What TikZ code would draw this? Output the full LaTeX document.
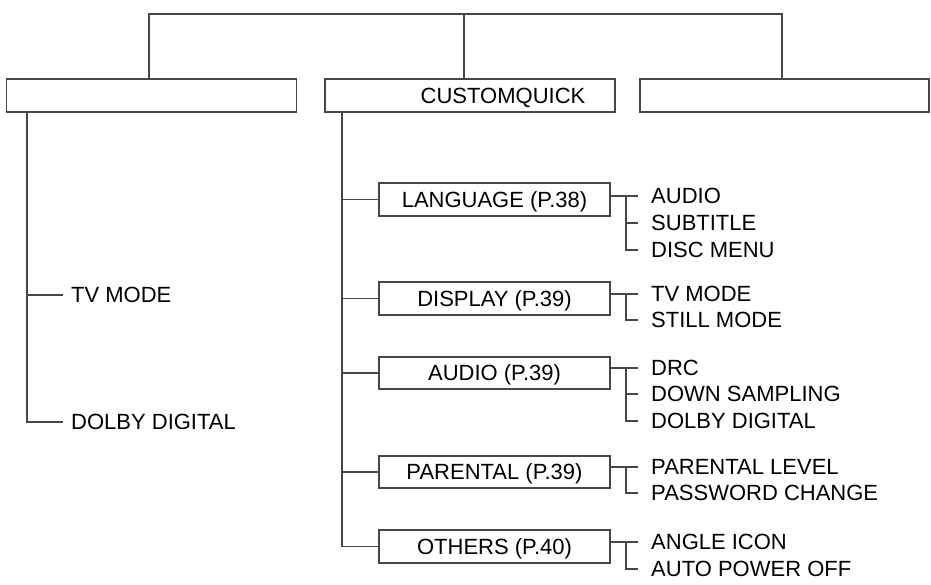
\documentclass[tikz,border=0pt]{standalone}
\usepackage{fontspec}
\setmainfont{Liberation Sans}
\begin{document}
\begin{tikzpicture}[x=1pt,y=-1pt,
  conn/.style={draw=black!72,line width=1.6pt},
  topbox/.style={draw=black!72,line width=1.6pt,minimum width=290pt,minimum height=33pt,inner sep=0pt},
  subbox/.style={draw=black!72,line width=1.6pt,minimum width=231pt,minimum height=33pt,inner sep=0pt,
    font=\fontsize{22}{24}\selectfont,text height=15.75pt,text depth=0pt},
  item/.style={anchor=west,inner xsep=0pt,inner ysep=1pt,font=\fontsize{22}{24}\selectfont,
    text height=15.75pt,text depth=0pt}]
\useasboundingbox (0,0) rectangle (931,584);
% top level
\node[topbox] (L) at (151.5,95.5) {};
\node[topbox] (M) at (470,95.5) {};
\node[topbox,minimum width=289pt] (R) at (784.5,95.5) {};
\node[item,anchor=center] (cq) at (503,95.5) {CUSTOMQUICK};
\coordinate (t1) at (149,14);
\coordinate (t2) at (464,14);
\coordinate (t3) at (782,14);
\draw[conn] (L.north -| t1) -- (t1) -- (t3) -- (R.north -| t3);
\draw[conn] (t2) -- (M.north -| t2);
% left column
\coordinate (lx) at (27,0);
\node[item] (ltv) at (71,295) {TV MODE};
\node[item] (ldd) at (71,422) {DOLBY DIGITAL};
\draw[conn] (L.south -| lx) |- ([xshift=-8pt]ldd.west);
\draw[conn] (lx |- ltv.west) -- ([xshift=-8pt]ltv.west);
% middle column boxes
\coordinate (mx) at (342,0);
\node[subbox] (lang) at (494.5,199.5) {LANGUAGE (P.38)};
\node[subbox] (disp) at (494.5,298.5) {DISPLAY (P.39)};
\node[subbox,minimum height=32pt] (aud) at (494.5,373) {AUDIO (P.39)};
\node[subbox,minimum height=32pt] (par) at (494.5,472) {PARENTAL (P.39)};
\node[subbox] (oth) at (494.5,546.5) {OTHERS (P.40)};
\draw[conn] (M.south -| mx) |- (oth.west);
\foreach \b in {lang,disp,aud,par}
  \draw[conn] (mx |- \b.west) -- (\b.west);
% items
\node[item] (a1) at (651,196) {AUDIO};
\node[item] (a2) at (651,223) {SUBTITLE};
\node[item] (a3) at (651,250) {DISC MENU};
\node[item] (b1) at (651,294) {TV MODE};
\node[item] (b2) at (651,320) {STILL MODE};
\node[item] (c1) at (651,368) {DRC};
\node[item] (c2) at (651,394) {DOWN SAMPLING};
\node[item] (c3) at (651,421) {DOLBY DIGITAL};
\node[item] (d1) at (651,467) {PARENTAL LEVEL};
\node[item] (d2) at (651,493) {PASSWORD CHANGE};
\node[item] (e1) at (651,542) {ANGLE ICON};
\node[item] (e2) at (651,569) {AUTO POWER OFF};
% brackets
\foreach \bx/\f/\l in {lang/a1/a3,disp/b1/b2,aud/c1/c3,par/d1/d2,oth/e1/e2}{
  \draw[conn] (\bx.east |- \f.west) -- ([xshift=-13pt]\f.west);
  \draw[conn] ([xshift=-25pt]\f.west) |- ([xshift=-13pt]\l.west);
}
\draw[conn] ([xshift=-25pt]a2.west) -- ([xshift=-13pt]a2.west);
\draw[conn] ([xshift=-25pt]c2.west) -- ([xshift=-13pt]c2.west);
\end{tikzpicture}
\end{document}
